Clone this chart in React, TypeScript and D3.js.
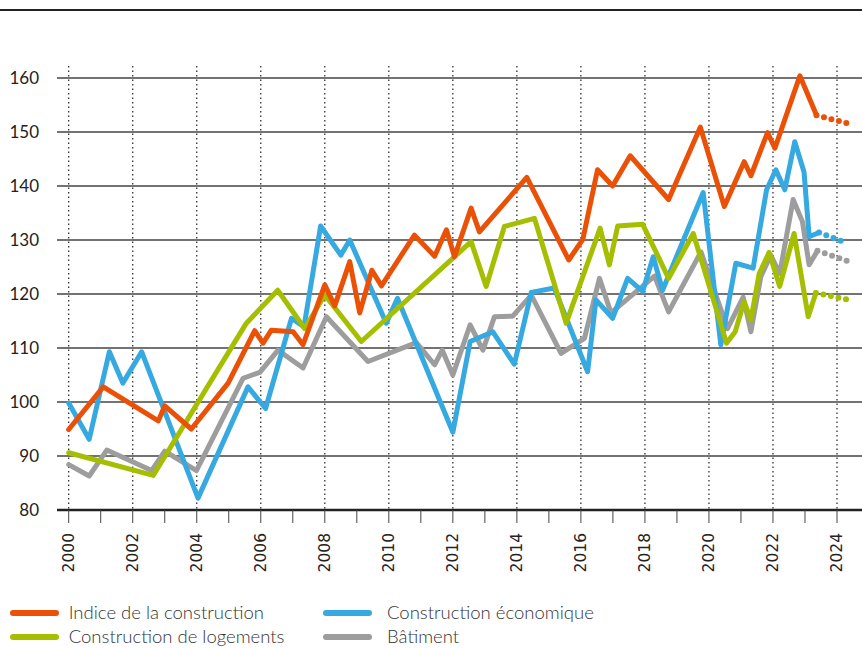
import * as d3 from 'd3'

// Indice de la construction
const indiceYears = [2000.0, 2001.08, 2002.8, 2003.0, 2003.83, 2004.98, 2005.81, 2006.07, 2006.33, 2007.01, 2007.32, 2008.0, 2008.31, 2008.78, 2009.09, 2009.47, 2009.77, 2010.8, 2011.43, 2011.8, 2012.05, 2012.57, 2012.83, 2014.31, 2015.62, 2016.06, 2016.52, 2016.99, 2017.54, 2018.74, 2019.73, 2020.48, 2021.1, 2021.31, 2021.83, 2022.06, 2022.84, 2023.36]
const indiceValues = [94.9, 102.8, 96.5, 99.3, 95.0, 103.5, 113.2, 110.9, 113.3, 113.0, 110.6, 121.7, 117.8, 126.0, 116.5, 124.4, 121.5, 130.9, 127.0, 131.9, 126.9, 135.9, 131.5, 141.6, 126.3, 130.1, 143.0, 140.0, 145.6, 137.5, 150.9, 136.2, 144.5, 141.9, 149.9, 147.0, 160.4, 153.1]
const indiceForecastYears = [2023.36, 2024.33]
const indiceForecastValues = [153.1, 151.6]

// Construction économique
const ecoYears = [2000.0, 2000.64, 2001.27, 2001.69, 2002.28, 2004.04, 2005.6, 2006.15, 2006.96, 2007.35, 2007.87, 2008.5, 2008.78, 2009.92, 2010.27, 2012.0, 2012.54, 2013.25, 2013.92, 2014.45, 2015.17, 2016.21, 2016.47, 2016.99, 2017.46, 2017.93, 2018.26, 2018.55, 2019.82, 2020.37, 2020.84, 2021.38, 2021.8, 2022.09, 2022.37, 2022.68, 2022.97, 2023.13, 2023.44]
const ecoValues = [99.8, 93.1, 109.3, 103.5, 109.3, 82.2, 102.8, 98.8, 115.5, 113.9, 132.6, 127.2, 130.0, 114.6, 119.2, 94.4, 111.2, 113.0, 107.0, 120.3, 121.1, 105.6, 118.9, 115.5, 122.9, 120.5, 126.9, 120.7, 138.8, 110.6, 125.7, 124.8, 139.3, 143.0, 139.3, 148.2, 142.6, 130.6, 131.4]
const ecoForecastYears = [2023.44, 2024.33]
const ecoForecastValues = [131.4, 129.4]

// Construction de logements
const logYears = [2000.0, 2002.64, 2005.55, 2006.53, 2007.37, 2008.0, 2009.14, 2012.57, 2013.04, 2013.61, 2014.55, 2015.54, 2016.6, 2016.89, 2017.15, 2017.93, 2018.74, 2019.51, 2020.55, 2020.82, 2021.1, 2021.31, 2021.57, 2021.88, 2022.21, 2022.66, 2023.1, 2023.34]
const logValues = [90.6, 86.4, 114.6, 120.7, 113.6, 119.8, 111.2, 129.7, 121.4, 132.5, 134.0, 114.6, 132.2, 125.4, 132.6, 132.9, 122.9, 131.2, 110.9, 113.0, 118.6, 115.2, 123.8, 127.7, 121.4, 131.2, 115.8, 120.2]
const logForecastYears = [2023.34, 2024.38]
const logForecastValues = [120.2, 118.9]

// Bâtiment
const batYears = [2000.0, 2000.64, 2001.19, 2002.59, 2003.0, 2003.99, 2005.45, 2005.97, 2006.54, 2007.32, 2008.05, 2009.35, 2010.86, 2011.43, 2011.67, 2012.0, 2012.54, 2012.94, 2013.3, 2013.87, 2014.45, 2015.38, 2016.11, 2016.58, 2016.94, 2018.3, 2018.74, 2019.75, 2020.58, 2021.07, 2021.31, 2021.62, 2021.93, 2022.21, 2022.63, 2022.92, 2023.13, 2023.39]
const batValues = [88.4, 86.3, 91.1, 87.3, 90.9, 87.3, 104.4, 105.5, 109.6, 106.3, 115.8, 107.5, 111.0, 106.9, 109.6, 105.0, 114.3, 109.6, 115.8, 115.9, 119.8, 109.0, 111.8, 122.9, 116.5, 123.3, 116.7, 127.8, 113.6, 119.4, 113.0, 123.2, 127.2, 123.8, 137.5, 133.4, 125.4, 128.0]
const batForecastYears = [2023.39, 2024.33]
const batForecastValues = [128.0, 126.1]

const yTicks = [80, 90, 100, 110, 120, 130, 140, 150, 160]
const xLabels = [2000, 2002, 2004, 2006, 2008, 2010, 2012, 2014, 2016, 2018, 2020, 2022, 2024]
const xMinorTicks = d3.range(2000, 2025)

const series = [
  { name: 'Bâtiment', color: '#9d9d9d', years: batYears, values: batValues, fy: batForecastYears, fv: batForecastValues },
  { name: 'Construction économique', color: '#36a9e1', years: ecoYears, values: ecoValues, fy: ecoForecastYears, fv: ecoForecastValues },
  { name: 'Construction de logements', color: '#a5be00', years: logYears, values: logValues, fy: logForecastYears, fv: logForecastValues },
  { name: 'Indice de la construction', color: '#ea5006', years: indiceYears, values: indiceValues, fy: indiceForecastYears, fv: indiceForecastValues },
]

const legendItems = [
  { name: 'Indice de la construction', color: '#ea5006', col: 0, row: 0 },
  { name: 'Construction économique', color: '#36a9e1', col: 1, row: 0 },
  { name: 'Construction de logements', color: '#a5be00', col: 0, row: 1 },
  { name: 'Bâtiment', color: '#9d9d9d', col: 1, row: 1 },
]

export default function App() {
  const width = 862
  const height = 648

  const x = d3.scaleLinear([2000, 2024], [68.7, 837])
  const y = d3.scaleLinear([80, 160], [510, 78])

  const line = d3
    .line<[number, number]>()
    .x((d) => x(d[0]))
    .y((d) => y(d[1]))

  const font = 'Lato, "Noto Sans", sans-serif'

  return (
    <svg
      width={width}
      height={height}
      style={{ position: 'absolute', left: 0, top: 0, background: '#fff' }}
    >
      <line x1={0} x2={width} y1={10} y2={10} stroke="#222" strokeWidth={2} />

      {/* vertical dotted lines */}
      {xLabels.map((yr) => (
        <line
          key={'v' + yr}
          x1={x(yr)}
          x2={x(yr)}
          y1={y(162.2)}
          y2={y(80)}
          stroke="#222"
          strokeWidth={1.2}
          strokeDasharray="1.5 3"
        />
      ))}

      {/* horizontal grid */}
      {yTicks.map((t) => (
        <g key={'h' + t}>
          <line
            x1={57}
            x2={width}
            y1={y(t)}
            y2={y(t)}
            stroke={t === 80 ? '#222' : '#444'}
            strokeWidth={t === 80 ? 2.5 : 1.6}
          />
          <text
            x={39}
            y={y(t)}
            dy="0.35em"
            textAnchor="end"
            fontFamily={font}
            fontSize={17}
            fill="#222"
          >
            {t}
          </text>
        </g>
      ))}

      {/* minor ticks */}
      {xMinorTicks.map((yr) => (
        <line
          key={'t' + yr}
          x1={x(yr)}
          x2={x(yr)}
          y1={y(80)}
          y2={y(80) + 13}
          stroke="#444"
          strokeWidth={1}
        />
      ))}

      {xLabels.map((yr) => (
        <text
          key={'l' + yr}
          transform={`translate(${x(yr)},533) rotate(-90)`}
          textAnchor="end"
          dy="0.35em"
          fontFamily='"DejaVu Sans", sans-serif'
          fontSize={15.5}
          fill="#222"
        >
          {yr}
        </text>
      ))}

      {/* series */}
      {series.map((s) => (
        <g key={s.name}>
          <path
            d={line(s.years.map((yr, i) => [yr, s.values[i]]))!}
            fill="none"
            stroke={s.color}
            strokeWidth={5}
            strokeLinejoin="round"
            strokeLinecap="round"
          />
          <path
            d={line(s.fy.map((yr, i) => [yr, s.fv[i]]))!}
            fill="none"
            stroke={s.color}
            strokeWidth={6}
            strokeLinecap="round"
            strokeDasharray="0 7.7"
          />
        </g>
      ))}

      {/* legend */}
      {legendItems.map((it) => {
        const lx = it.col === 0 ? 13 : 326
        const tx = it.col === 0 ? 68.7 : 387
        const ly = 613 + it.row * 24
        return (
          <g key={'lg' + it.name}>
            <line
              x1={lx}
              x2={lx + 43}
              y1={ly}
              y2={ly}
              stroke={it.color}
              strokeWidth={6}
              strokeLinecap="round"
            />
            <text
              x={tx}
              y={ly}
              dy="0.35em"
              fontFamily={font}
              fontWeight={300}
              fontSize={18.5}
              fill="#333"
            >
              {it.name}
            </text>
          </g>
        )
      })}
    </svg>
  )
}
